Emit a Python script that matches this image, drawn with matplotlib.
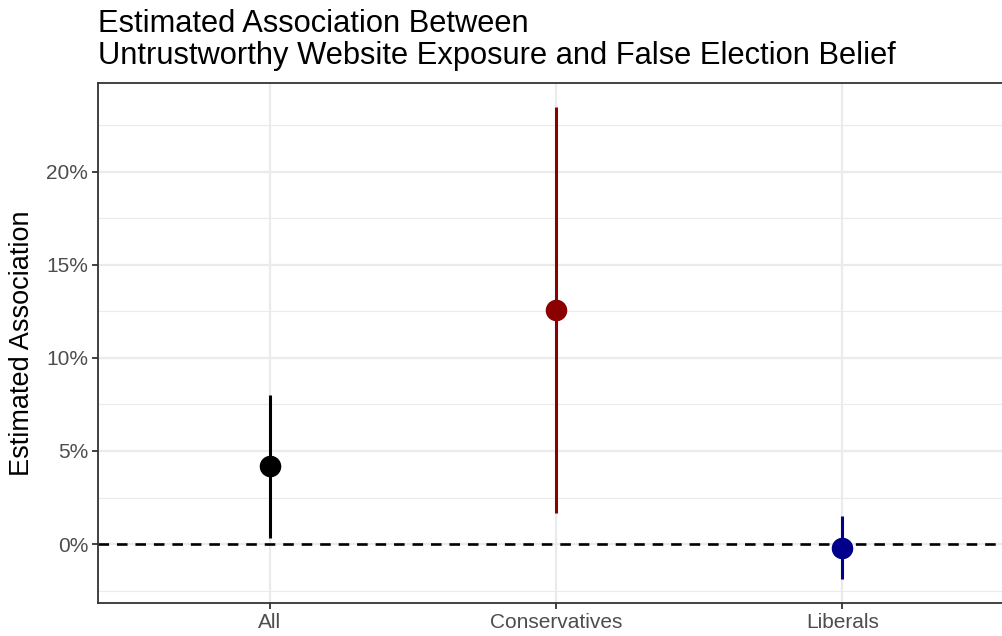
import matplotlib
matplotlib.use("Agg")
import matplotlib.pyplot as plt
from matplotlib.ticker import FixedLocator, FuncFormatter

plt.rcParams['font.family'] = ['Liberation Sans', 'DejaVu Sans']

groups = ['All', 'Conservatives', 'Liberals']
estimate = [4.17, 12.58, -0.21]
ci_low = [0.33, 1.68, -1.90]
ci_high = [8.00, 23.47, 1.52]
colors = ['#000000', '#8B0000', '#00008B']

fig = plt.figure(figsize=(10.03, 6.36), dpi=100)
ax = fig.add_axes([98 / 1003, 33 / 636, 916 / 1003, 520 / 636])

xs = list(range(1, len(groups) + 1))
ax.axhline(0, color='black', lw=1.9, dashes=(4, 3), zorder=2)
for x, est, lo, hi, c in zip(xs, estimate, ci_low, ci_high, colors):
    ax.vlines(x, lo, hi, color=c, lw=2.2, zorder=3)
    ax.plot(x, est, 'o', color=c, ms=14.5, zorder=4)

ax.set_xlim(0.4, 3.6)
ax.set_ylim(-3.17, 24.78)
ax.set_xticks(xs)
ax.set_xticklabels(groups)
ax.yaxis.set_major_locator(FixedLocator([0, 5, 10, 15, 20]))
ax.yaxis.set_minor_locator(FixedLocator([-2.5, 2.5, 7.5, 12.5, 17.5, 22.5]))
ax.yaxis.set_major_formatter(FuncFormatter(lambda v, p: f'{v:.0f}%'))

ax.grid(True, which='major', color='#EBEBEB', lw=1.6, zorder=0)
ax.grid(True, which='minor', axis='y', color='#EBEBEB', lw=0.8, zorder=0)
ax.set_axisbelow(True)

for s in ax.spines.values():
    s.set_color('#333333')
    s.set_linewidth(1.3)
ax.spines['right'].set_visible(False)

ax.tick_params(axis='both', which='major', length=4, width=1.3, color='#333333',
               labelcolor='#4D4D4D', labelsize=15, pad=3)
ax.tick_params(axis='y', which='minor', length=0)

ax.set_ylabel('Estimated Association', fontsize=19.5, color='black', labelpad=8)

fig.text(98 / 1003, 1 - 9 / 636,
         'Estimated Association Between\nUntrustworthy Website Exposure and False Election Belief',
         ha='left', va='top', fontsize=22.2, color='black', linespacing=1.1)

fig.savefig('out.png', dpi=100)
